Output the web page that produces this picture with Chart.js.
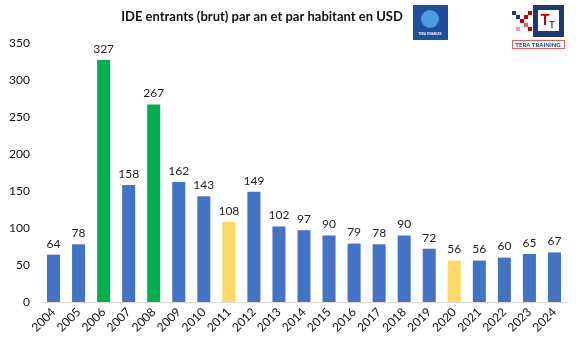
<!DOCTYPE html>
<html>
<head>
<meta charset="utf-8">
<script src="https://cdn.jsdelivr.net/npm/chart.js@4.4.1/dist/chart.umd.min.js"></script>
<style>
  html, body { margin: 0; padding: 0; background: #fff; }
  #wrap { width: 581px; height: 348px; position: relative; }
</style>
</head>
<body>
<div id="wrap"><canvas id="chart"></canvas></div>
<script>
const years = ['2004', '2005', '2006', '2007', '2008', '2009', '2010', '2011', '2012', '2013', '2014',
  '2015', '2016', '2017', '2018', '2019', '2020', '2021', '2022', '2023', '2024'];
const fdiPerCapita = [64, 78, 327, 158, 267, 162, 143, 108, 149, 102, 97, 90, 79, 78, 90, 72, 56, 56, 60, 65, 67];
const greenYears = ['2006', '2008'];
const yellowYears = ['2011', '2020'];
const yTicks = [0, 50, 100, 150, 200, 250, 300, 350];

const BLUE = '#4472C4';
const GREEN = '#00B050';
const YELLOW = '#FFD966';

const barColors = years.map(y => greenYears.includes(y) ? GREEN : yellowYears.includes(y) ? YELLOW : BLUE);

const FONT = 'Lato, "Open Sans", sans-serif';

// value labels above bars
const valueLabels = {
  id: 'valueLabels',
  afterDatasetsDraw(chart) {
    const ctx = chart.ctx;
    const meta = chart.getDatasetMeta(0);
    ctx.save();
    ctx.fillStyle = '#222';
    ctx.font = '12px ' + FONT;
    ctx.textAlign = 'center';
    ctx.textBaseline = 'bottom';
    meta.data.forEach((bar, i) => {
      ctx.fillText(String(fdiPerCapita[i]), bar.x, bar.y - 5);
    });
    ctx.restore();
  }
};

// title + logos
const header = {
  id: 'header',
  afterDraw(chart) {
    const ctx = chart.ctx;
    ctx.save();
    ctx.fillStyle = '#111';
    ctx.font = 'bold 13px ' + FONT;
    ctx.textAlign = 'center';
    ctx.textBaseline = 'middle';
    ctx.fillText('IDE entrants (brut) par an et par habitant en USD', 262, 17);

    // Tera Finances logo
    ctx.fillStyle = '#1F4E9A';
    ctx.fillRect(413, 5, 35, 35);
    ctx.fillStyle = '#4F9BE0';
    ctx.beginPath();
    ctx.arc(430, 19, 9, 0, Math.PI * 2);
    ctx.fill();
    ctx.fillStyle = '#fff';
    ctx.font = 'bold 3px ' + FONT;
    ctx.fillText('TERA FINANCES', 430, 34);

    // Tera Training logo
    ctx.fillStyle = '#1F3A6E';
    ctx.fillRect(533, 5, 31, 32);
    ctx.fillStyle = '#fff';
    ctx.fillRect(538, 10, 21, 21);
    ctx.fillStyle = '#C00000';
    ctx.font = 'bold 15px ' + FONT;
    ctx.fillText('T', 545, 20);
    ctx.fillStyle = '#1F3A6E';
    ctx.font = 'bold 9px ' + FONT;
    ctx.fillText('T', 552, 25);
    const sq = [[512, 11, '#1F3A6E'], [516, 15, '#1F3A6E'], [520, 19, '#C00000'], [524, 15, '#C00000'], [528, 11, '#C00000'], [524, 23, '#E06060'], [516, 27, '#E8A0A0'], [528, 27, '#C00000']];
    sq.forEach(s => { ctx.fillStyle = s[2]; ctx.fillRect(s[0], s[1], 4, 4); });
    ctx.strokeStyle = '#E06060';
    ctx.lineWidth = 1;
    ctx.strokeRect(512.5, 40.5, 52, 8);
    ctx.fillStyle = '#1F3A6E';
    ctx.font = 'bold 6px ' + FONT;
    ctx.fillText('TERA TRAINING', 538, 45);
    ctx.restore();
  }
};

new Chart(document.getElementById('chart'), {
  type: 'bar',
  data: {
    labels: years,
    datasets: [{
      data: fdiPerCapita,
      backgroundColor: barColors,
      categoryPercentage: 1,
      barPercentage: 0.52
    }]
  },
  options: {
    responsive: true,
    maintainAspectRatio: false,
    animation: false,
    layout: { padding: { top: 43, right: 14, left: 0, bottom: 0 } },
    plugins: {
      legend: { display: false },
      tooltip: { enabled: false }
    },
    scales: {
      x: {
        afterFit: axis => { axis.height = 46; },
        grid: { display: false, drawTicks: false },
        border: { color: '#D9D9D9', width: 1 },
        ticks: {
          color: '#111',
          font: { family: FONT, size: 12 },
          maxRotation: 45,
          minRotation: 45,
          padding: 3
        }
      },
      y: {
        min: 0,
        max: 350,
        afterBuildTicks: axis => { axis.ticks = yTicks.map(v => ({ value: v })); },
        afterFit: axis => { axis.width = 41; },
        grid: { display: false, drawTicks: false },
        border: { display: false },
        ticks: {
          color: '#111',
          font: { family: FONT, size: 12 },
          padding: 11
        }
      }
    }
  },
  plugins: [valueLabels, header]
});
</script>
</body>
</html>
